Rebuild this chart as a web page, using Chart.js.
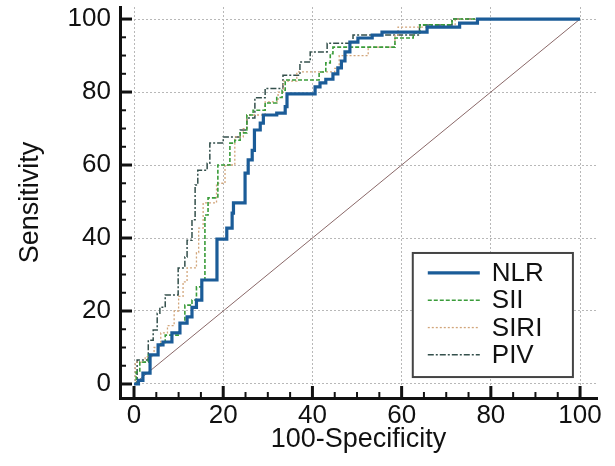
<!DOCTYPE html>
<html>
<head>
<meta charset="utf-8">
<script src="https://cdn.jsdelivr.net/npm/chart.js@4.4.0/dist/chart.umd.min.js"></script>
<style>
  html, body { margin: 0; padding: 0; background: #fff; }
  #wrap { width: 615px; height: 466px; }
</style>
</head>
<body>
<div id="wrap"><canvas id="rocChart" width="615" height="466"></canvas></div>
<script>
// ROC step points: x = 100-Specificity where the curve jumps, y = sensitivity after the jump
const nlrX = [0, 1, 2, 3.6, 5.4, 6.5, 8.5, 10.3, 11.9, 13, 14, 15.2, 18.6, 20.8, 22, 22.3, 24.9, 25.6, 26.5, 27, 28.3, 29, 32, 33.9, 34.3, 40.6, 41.7, 43, 44.6, 45.7, 46.5, 47.3, 48.4, 50.2, 53.4, 55.6, 65.7, 73, 77, 100];
const nlrY = [0, 1, 3, 8, 10.7, 11.5, 14, 16.7, 18.4, 21, 23, 28.5, 39.7, 42.7, 46.8, 49.6, 57.8, 61.4, 64, 69.6, 71.5, 73.7, 74.2, 76, 79.5, 81.4, 82.5, 83.5, 85, 86.6, 88.5, 91, 93.7, 94.8, 95.6, 96.4, 97.8, 98.9, 100, 100];

const siiX = [0, 0.5, 1.3, 3.2, 5.4, 7, 9.9, 10.3, 11.4, 13, 14, 15.2, 15.9, 16.6, 18.8, 21.5, 22.6, 23.8, 25.3, 26.7, 29.4, 32, 33.2, 33.9, 41.5, 43, 44, 44.6, 58.5, 62.6, 64.1, 71.3, 100];
const siiY = [0, 3.3, 6, 8, 11, 13.4, 14.2, 16.7, 21.6, 23, 26.6, 28.5, 46.3, 51, 60, 66, 66.8, 68.8, 73.7, 75, 77, 78.5, 80.5, 83.3, 85.5, 88, 90.5, 92.3, 94.8, 96.2, 98.4, 100, 100];

const siriX = [0, 0.3, 2.5, 4.5, 6, 7.5, 9, 10, 11, 11.9, 14, 14.5, 15.5, 18.5, 20.4, 22.6, 24.5, 25.3, 29.4, 32.3, 33.5, 36.5, 45, 46, 52.5, 58.5, 59.2, 72, 100];
const siriY = [0, 6, 7.5, 10, 14, 16, 20, 24, 28, 31.8, 36, 42.7, 49.6, 55, 60, 67.7, 70, 73.7, 77.3, 80, 83, 85.5, 86.5, 90, 92.3, 95.5, 97.8, 100, 100];

const pivX = [0, 0.7, 3.2, 4.3, 5.2, 5.8, 7, 9.9, 11.4, 11.9, 13, 13.7, 14.3, 16.4, 17, 20, 23.8, 25.3, 27.1, 29.4, 33.4, 37.2, 39.5, 43.3, 49.1, 64, 71.3, 100];
const pivY = [0, 6.6, 12, 14.8, 19.4, 21, 24.4, 31.8, 34.8, 39.4, 45, 54.5, 58.6, 60.5, 66, 67.7, 69.6, 72.9, 78.4, 81, 84.6, 88.2, 91, 93.4, 95.6, 98.4, 100, 100];

const refX = [0, 100];
const refY = [0, 100];

const tickValues = [0, 5, 10, 15, 20, 25, 30, 35, 40, 45, 50, 55, 60, 65, 70, 75, 80, 85, 90, 95, 100];

function toPoints(xs, ys) {
    return xs.map((x, i) => ({ x: x, y: ys[i] }));
}

Chart.defaults.font.family = '"Liberation Sans", Arial, sans-serif';
Chart.defaults.color = '#111';

// inward tick marks, long on multiples of 20
const tickMarks = {
    id: 'tickMarks',
    afterDraw(chart) {
        const ctx = chart.ctx;
        const xs = chart.scales.x, ys = chart.scales.y;
        const area = chart.chartArea;
        ctx.save();
        ctx.strokeStyle = '#111';
        tickValues.forEach(v => {
            const major = v % 20 === 0;
            ctx.lineWidth = major ? 3 : 2;
            const len = major ? 12 : 6;
            const px = xs.getPixelForValue(v);
            ctx.beginPath();
            ctx.moveTo(px, area.bottom);
            ctx.lineTo(px, area.bottom - len);
            ctx.stroke();
            const py = ys.getPixelForValue(v);
            ctx.beginPath();
            ctx.moveTo(area.left, py);
            ctx.lineTo(area.left + len, py);
            ctx.stroke();
        });
        ctx.restore();
    }
};

// legend box inside the plot, lower right
const boxLegend = {
    id: 'boxLegend',
    afterDraw(chart) {
        const ctx = chart.ctx;
        const xs = chart.scales.x, ys = chart.scales.y;
        const left = xs.getPixelForValue(62.5), right = xs.getPixelForValue(98.4);
        const top = ys.getPixelForValue(35.9), bottom = ys.getPixelForValue(1.9);
        ctx.save();
        ctx.fillStyle = '#fff';
        ctx.fillRect(left, top, right - left, bottom - top);
        ctx.strokeStyle = '#444';
        ctx.lineWidth = 2;
        ctx.strokeRect(left, top, right - left, bottom - top);
        const items = chart.data.datasets.filter(d => d.label !== 'Reference');
        ctx.font = '26px "Liberation Sans", Arial, sans-serif';
        ctx.textBaseline = 'middle';
        items.forEach((d, i) => {
            const cy = top + 20 + 27.3 * i;
            ctx.strokeStyle = d.borderColor;
            ctx.lineWidth = d.borderWidth;
            ctx.setLineDash(d.borderDash || []);
            ctx.beginPath();
            ctx.moveTo(left + 15, cy);
            ctx.lineTo(left + 67, cy);
            ctx.stroke();
            ctx.setLineDash([]);
            ctx.fillStyle = '#111';
            ctx.fillText(d.label, left + 79, cy + 1);
        });
        ctx.restore();
    }
};

const ctxRoc = document.getElementById('rocChart').getContext('2d');
new Chart(ctxRoc, {
    type: 'line',
    data: {
        datasets: [
            {
                label: 'NLR',
                data: toPoints(nlrX, nlrY),
                borderColor: '#1b5c98',
                borderWidth: 3.2,
                stepped: 'before'
            },
            {
                label: 'SII',
                data: toPoints(siiX, siiY),
                borderColor: '#3a9c3a',
                borderWidth: 1.6,
                borderDash: [4, 2],
                stepped: 'before'
            },
            {
                label: 'SIRI',
                data: toPoints(siriX, siriY),
                borderColor: '#d2a57a',
                borderWidth: 1.3,
                borderDash: [2, 2],
                stepped: 'before'
            },
            {
                label: 'PIV',
                data: toPoints(pivX, pivY),
                borderColor: '#34504c',
                borderWidth: 1.5,
                borderDash: [6, 2, 2, 2],
                stepped: 'before'
            },
            {
                label: 'Reference',
                data: toPoints(refX, refY),
                borderColor: '#8a6868',
                borderWidth: 1
            }
        ]
    },
    options: {
        responsive: false,
        animation: false,
        devicePixelRatio: 1,
        elements: { point: { radius: 0 } },
        layout: { padding: { top: 7, right: 18, left: 0, bottom: 0 } },
        plugins: {
            legend: { display: false },
            tooltip: { enabled: false }
        },
        scales: {
            x: {
                type: 'linear',
                min: -3.14,
                max: 103.8,
                afterBuildTicks: scale => { scale.ticks = tickValues.map(v => ({ value: v })); },
                afterFit: scale => {
                    scale.height = 68;
                    scale.paddingLeft = 0;
                    scale.paddingRight = 0;
                },
                ticks: {
                    font: { size: 26 },
                    padding: 2,
                    maxRotation: 0,
                    autoSkip: false,
                    callback: v => (v % 20 === 0 ? v : '')
                },
                grid: {
                    drawTicks: false,
                    color: c => (c.tick && c.tick.value % 20 === 0 ? '#b8b8b8' : 'rgba(0,0,0,0)'),
                    lineWidth: 1
                },
                border: { color: '#111', width: 3, dash: [2, 2] },
                title: {
                    display: true,
                    text: '100-Specificity',
                    font: { size: 27 },
                    padding: { top: 0, bottom: 10 }
                }
            },
            y: {
                type: 'linear',
                min: -3.84,
                max: 103.3,
                afterBuildTicks: scale => { scale.ticks = tickValues.map(v => ({ value: v })); },
                afterFit: scale => {
                    scale.width = 120;
                    scale.paddingTop = 0;
                    scale.paddingBottom = 0;
                },
                ticks: {
                    font: { size: 26 },
                    padding: 9,
                    autoSkip: false,
                    callback: v => (v % 20 === 0 ? v : '')
                },
                grid: {
                    drawTicks: false,
                    color: c => (c.tick && c.tick.value % 20 === 0 ? '#b8b8b8' : 'rgba(0,0,0,0)'),
                    lineWidth: 1
                },
                border: { color: '#111', width: 3, dash: [2, 2] },
                title: {
                    display: true,
                    text: 'Sensitivity',
                    font: { size: 27 },
                    padding: { top: 14, bottom: 0 }
                }
            }
        }
    },
    plugins: [tickMarks, boxLegend]
});
</script>
</body>
</html>
